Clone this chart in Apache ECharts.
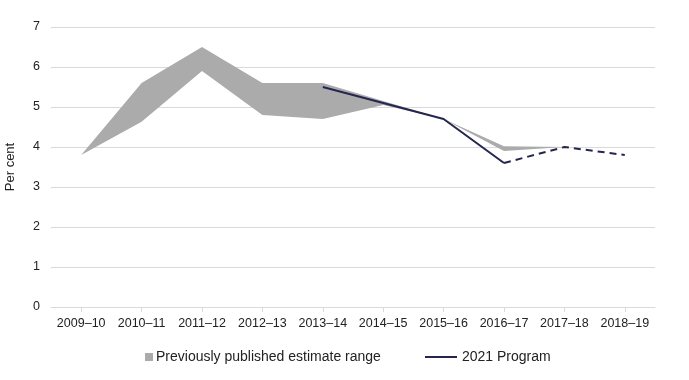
<!DOCTYPE html>
<html><head><meta charset="utf-8">
<script src="https://cdn.jsdelivr.net/npm/echarts@6/dist/echarts.min.js"></script>
<style>html,body{margin:0;padding:0;background:#fff}#c{width:689px;height:380px}</style>
</head><body><div id="c"></div>
<script>
const categories = ['2009–10','2010–11','2011–12','2012–13','2013–14','2014–15','2015–16','2016–17','2017–18','2018–19'];
const rangeLower = [3.8, 4.63, 5.9, 4.8, 4.7, 5.05, 4.7, 3.9, 4.0, null];
const rangeUpper = [3.8, 5.6, 6.5, 5.6, 5.6, 5.15, 4.7, 4.02, 4.0, null];
const programActual = [null, null, null, null, 5.5, 5.1, 4.7, 3.6, null, null];
const programProjected = [null, null, null, null, null, null, null, 3.6, 4.0, 3.8];
const yTicks = [0,1,2,3,4,5,6,7];

const rangeDiff = rangeUpper.map((u,i)=> (u==null||rangeLower[i]==null)?null:+(u-rangeLower[i]).toFixed(3));
const font = 'Liberation Sans, Arial, sans-serif';
const txt = '#222222';
const navy = '#24264f';
const grey = '#ababab';

const chart = echarts.init(document.getElementById('c'));
chart.setOption({
  animation:false,
  grid:{left:51,right:34,top:27,bottom:73,containLabel:false,outerBoundsMode:'none'},
  xAxis:{type:'category',data:categories,boundaryGap:true,
    axisLine:{lineStyle:{color:'#d9d9d9'}},
    axisTick:{show:true,alignWithLabel:true,length:5,lineStyle:{color:'#d9d9d9'}},
    axisLabel:{color:txt,fontFamily:font,fontSize:12.5,margin:10,interval:0,hideOverlap:false}},
  yAxis:{type:'value',min:yTicks[0],max:yTicks[yTicks.length-1],interval:1,
    name:'Per cent',nameLocation:'middle',nameGap:34,
    nameTextStyle:{color:txt,fontFamily:font,fontSize:13},
    axisLine:{show:false},axisTick:{show:false},
    splitLine:{lineStyle:{color:'#d9d9d9'}},
    axisLabel:{color:txt,fontFamily:font,fontSize:12.5,margin:11}},
  legend:[
    {data:['Previously published estimate range'],left:140,top:345,icon:'rect',itemWidth:8,itemHeight:8,itemGap:4,
      textStyle:{color:txt,fontFamily:font,fontSize:14,padding:[0,0,0,-2]}},
    {data:['2021 Program'],left:420,top:345,icon:'rect',itemWidth:32,itemHeight:2,
      textStyle:{color:txt,fontFamily:font,fontSize:14}}
  ],
  series:[
    {name:'lower',type:'line',stack:'band',data:rangeLower,symbol:'none',lineStyle:{opacity:0},areaStyle:{opacity:0},silent:true},
    {name:'Previously published estimate range',type:'line',stack:'band',data:rangeDiff,symbol:'none',
      itemStyle:{color:grey},lineStyle:{opacity:0},areaStyle:{color:grey,opacity:1}},
    {name:'2021 Program',type:'line',data:programActual,symbol:'none',itemStyle:{color:navy},lineStyle:{color:navy,width:2}},
    {name:'projected',type:'line',data:programProjected,symbol:'none',lineStyle:{color:navy,width:2,type:[7,5]}}
  ]
});
</script></body></html>
